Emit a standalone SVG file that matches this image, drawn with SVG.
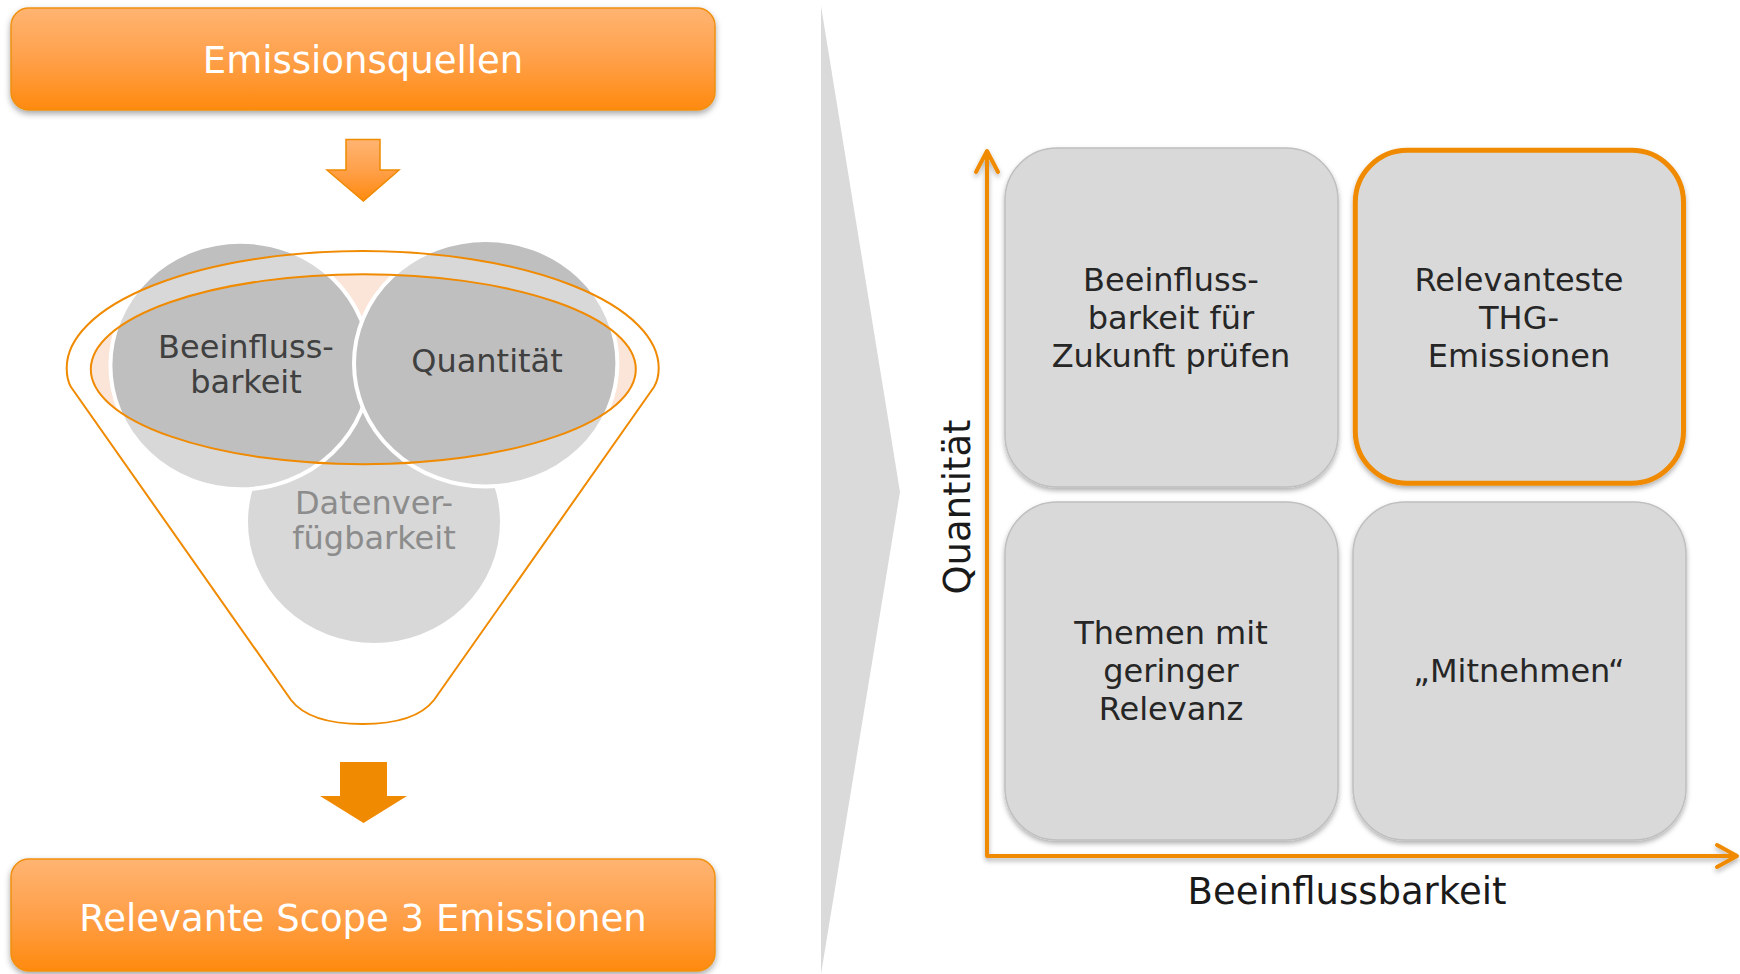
<svg xmlns="http://www.w3.org/2000/svg" width="1740" height="974" viewBox="0 0 1740 974">
<defs>
<linearGradient id="og" x1="0" y1="0" x2="0" y2="1">
<stop offset="0" stop-color="#FFB472"/>
<stop offset="0.5" stop-color="#FFA04A"/>
<stop offset="1" stop-color="#FF8A0E"/>
</linearGradient>
<filter id="sh" x="-10%" y="-10%" width="120%" height="130%">
<feDropShadow dx="0" dy="3" stdDeviation="3" flood-color="#000" flood-opacity="0.35"/>
</filter>
<filter id="sh2" x="-10%" y="-10%" width="120%" height="130%">
<feDropShadow dx="0" dy="3" stdDeviation="2.5" flood-color="#000" flood-opacity="0.3"/>
</filter>
<style>
.t{font-family:"DejaVu Sans",Verdana,sans-serif;text-anchor:middle}
.obox{fill:url(#og);stroke:#F0900F;stroke-width:1.5}
.wt{fill:#FFFFFF;font-size:37px}
.circ{fill:#BFBFBF;stroke:#FFFFFF;stroke-width:4}
.ct{fill:#404040;font-size:32px}
.quad{fill:#D9D9D9;stroke:#BFBFBF;stroke-width:1.5}
.qt{fill:#262626;font-size:32px}
.ax{fill:none;stroke:#F08A00;stroke-width:4;stroke-linejoin:round;stroke-linecap:round}
</style>
</defs>
<rect width="1740" height="974" fill="#FFFFFF"/>

<!-- divider chevron -->
<polygon id="divider" points="821,6 900,492 821,974" fill="#DADADA"/>

<g id="emissionsquellen">
<rect class="obox" x="11" y="8" width="704" height="102" rx="18" filter="url(#sh)"/>
<text class="t wt" x="363" y="73">Emissionsquellen</text>
</g>

<g id="funnel">
<ellipse cx="363.3" cy="369.2" rx="272.5" ry="95" fill="#FBE5D8"/>
<ellipse id="c-daten" class="circ" cx="374" cy="522" rx="128" ry="123"/>
<ellipse id="c-beein" class="circ" cx="240.4" cy="365.5" rx="130" ry="123.8"/>
<ellipse id="c-quant" class="circ" cx="485.7" cy="363.3" rx="131.7" ry="123.3"/>
<path fill="#FFFFFF" fill-opacity="0.4" fill-rule="evenodd" d="M66.7 368 A296 117 0 0 1 658.7 368 C658.7 376 657 382 654 387 L434 700 C420 718 395 724 362.5 724 C330 724 305 718 291 700 L71 387 C68 382 66.7 376 66.7 368 Z M90.8 369.2 A272.5 95 0 1 0 635.8 369.2 A272.5 95 0 1 0 90.8 369.2 Z"/>
<path fill="none" stroke="#F08A00" stroke-width="2" d="M66.7 368 A296 117 0 0 1 658.7 368 C658.7 376 657 382 654 387 L434 700 C420 718 395 724 362.5 724 C330 724 305 718 291 700 L71 387 C68 382 66.7 376 66.7 368 Z"/>
<ellipse cx="363.3" cy="369.2" rx="272.5" ry="95" fill="none" stroke="#F08A00" stroke-width="2"/>
<text class="t ct" x="246" y="358">Beeinfluss-</text>
<text class="t ct" x="246" y="393">barkeit</text>
<text class="t ct" x="487" y="372">Quantität</text>
<text class="t ct" x="374" y="514" fill="#8C8C8C" style="fill:#8C8C8C">Datenver-</text>
<text class="t ct" x="374" y="549" style="fill:#8C8C8C">fügbarkeit</text>
</g>

<g id="relevante">
<rect class="obox" x="11" y="859" width="704" height="112" rx="18" filter="url(#sh)"/>
<text class="t wt" x="363" y="931">Relevante Scope 3 Emissionen</text>
</g>

<g id="q-tl">
<rect class="quad" x="1005" y="148" width="333" height="339" rx="52" filter="url(#sh2)"/>
<text class="t qt" x="1171" y="291">Beeinfluss-</text>
<text class="t qt" x="1171" y="329">barkeit für</text>
<text class="t qt" x="1171" y="367">Zukunft prüfen</text>
</g>
<g id="q-tr">
<rect x="1355.3" y="150.2" width="328.2" height="333" rx="52" fill="#D9D9D9" stroke="#F08A00" stroke-width="5" filter="url(#sh2)"/>
<text class="t qt" x="1519" y="291">Relevanteste</text>
<text class="t qt" x="1519" y="329">THG-</text>
<text class="t qt" x="1519" y="367">Emissionen</text>
</g>
<g id="q-bl">
<rect class="quad" x="1005" y="502" width="333" height="338" rx="52" filter="url(#sh2)"/>
<text class="t qt" x="1171" y="644">Themen mit</text>
<text class="t qt" x="1171" y="682">geringer</text>
<text class="t qt" x="1171" y="720">Relevanz</text>
</g>
<g id="q-br">
<rect class="quad" x="1353" y="502" width="333" height="338" rx="52" filter="url(#sh2)"/>
<text class="t qt" x="1519" y="682">„Mitnehmen“</text>
</g>

<g id="connectors">
<path d="M346 139.5 H380 V170 H399 L363.4 201 L327 170 H346 Z" fill="url(#og)" stroke="#F08A00" stroke-width="1.5" stroke-linejoin="miter"/>
<path d="M340 762 H387 V796 H407 L363.5 823 L320 796 H340 Z" fill="#F08A00"/>
<g filter="url(#sh2)">
<path class="ax" d="M987 152 V856 H1736"/>
<path class="ax" d="M976 172 L987 151 L998 172"/>
<path class="ax" d="M1717 845 L1737 856 L1717 867"/>
</g>
</g>

<g id="axis-labels">
<text class="t" x="1347" y="904" font-size="37" fill="#1A1A1A">Beeinflussbarkeit</text>
<text class="t" x="0" y="0" font-size="37" fill="#1A1A1A" transform="translate(970 507) rotate(-90)">Quantität</text>
</g>
</svg>
